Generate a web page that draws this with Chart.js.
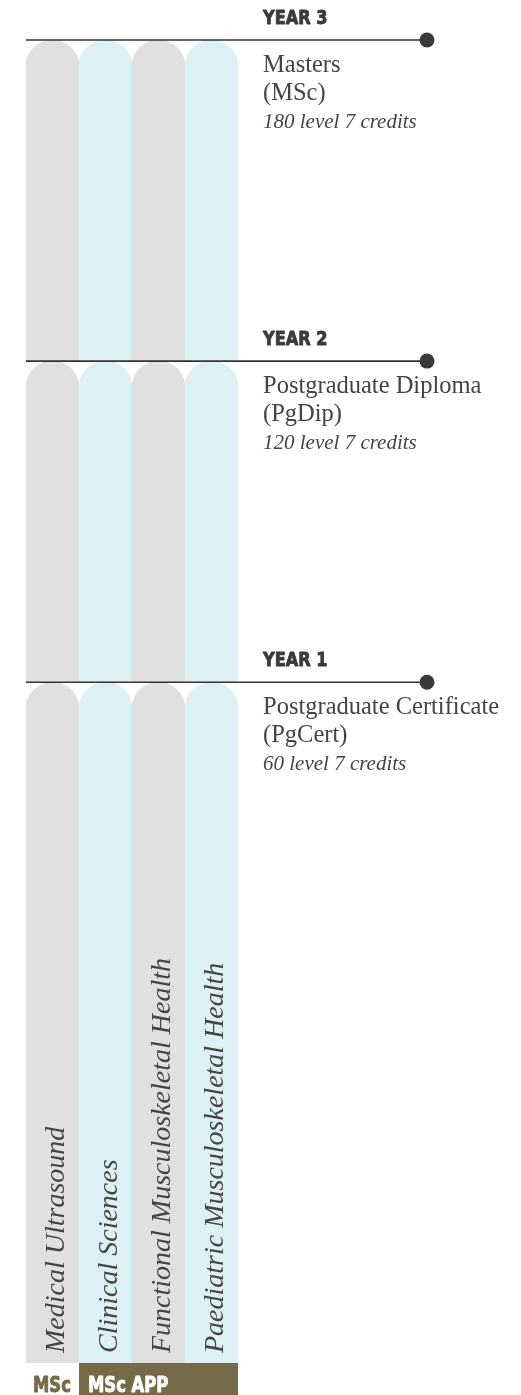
<!DOCTYPE html>
<html>
<head>
<meta charset="utf-8">
<script src="https://cdn.jsdelivr.net/npm/chart.js@4/dist/chart.umd.min.js"></script>
<style>
    html, body { margin: 0; padding: 0; background: #fff; }
    canvas { display: block; }
</style>
</head>
<body>
<canvas id="grafico" width="521" height="1395"></canvas>
<script>
// Programmes (one column each)
const programas = ['Medical Ultrasound', 'Clinical Sciences', 'Functional Musculoskeletal Health', 'Paediatric Musculoskeletal Health'];

// Years, from the bottom up
const anios = ['YEAR 1', 'YEAR 2', 'YEAR 3'];
const titulos = ['Postgraduate Certificate', 'Postgraduate Diploma', 'Masters'];
const siglas = ['(PgCert)', '(PgDip)', '(MSc)'];
const creditos = [60, 120, 180];
// height of each year's block (relative units)
const alturaTramo = [2.12, 1, 1];

// Routes shown under the columns
const rutas = ['MSc', 'MSc APP'];
const rutaDesde = [0, 1];
const rutaHasta = [0, 3];

// Styles
const coloresColumna = ['#e0e0e0', '#dcf0f6', '#e0e0e0', '#dcf0f6'];
const colorTexto = '#3a3a3a';
const colorOliva = '#756b48';
const fuenteNegrita = '"DejaVu Sans", sans-serif';
const fuenteSerif = '"Liberation Serif", "DejaVu Serif", serif';

const total = alturaTramo.reduce((s, v) => s + v, 0);

// Bold text squeezed horizontally, with a thin stroke to make it heavier
function textoEstrecho(ctx, texto, x, y, escala) {
    ctx.save();
    ctx.translate(x, y);
    ctx.scale(escala, 1);
    ctx.strokeStyle = ctx.fillStyle;
    ctx.lineWidth = 0.9;
    ctx.lineJoin = 'round';
    ctx.fillText(texto, 0, 0);
    ctx.strokeText(texto, 0, 0);
    ctx.restore();
}

// Lines, dots, texts and route bands drawn over the bars
const dibujoExtra = {
    id: 'dibujoExtra',
    afterDatasetsDraw(chart) {
        const ctx = chart.ctx;
        const escalaX = chart.scales.x;
        const escalaY = chart.scales.y;
        const area = chart.chartArea;
        const anchoCol = (area.right - area.left) / programas.length;

        ctx.save();

        // Rotated programme names
        ctx.fillStyle = '#444';
        ctx.font = 'italic 28px ' + fuenteSerif;
        ctx.textAlign = 'left';
        ctx.textBaseline = 'alphabetic';
        programas.forEach((p, i) => {
            ctx.save();
            ctx.translate(escalaX.getPixelForValue(i), area.bottom - 10);
            ctx.rotate(-Math.PI / 2);
            ctx.fillText(p, 0, 11);
            ctx.restore();
        });

        // Year lines with dot and labels
        let acumulado = 0;
        const textoX = area.right + 25;
        const finLinea = area.right + 189;
        anios.forEach((anio, i) => {
            acumulado += alturaTramo[i];
            const py = escalaY.getPixelForValue(acumulado);

            ctx.strokeStyle = '#333';
            ctx.lineWidth = 1.6;
            ctx.beginPath();
            ctx.moveTo(area.left, py);
            ctx.lineTo(finLinea, py);
            ctx.stroke();

            ctx.fillStyle = '#3a3a3a';
            ctx.beginPath();
            ctx.arc(finLinea, py, 7.5, 0, Math.PI * 2);
            ctx.fill();

            ctx.fillStyle = colorTexto;
            ctx.font = 'bold 19px ' + fuenteNegrita;
            textoEstrecho(ctx, anio, textoX, py - 16, 0.85);

            ctx.fillStyle = '#444';
            ctx.font = '24.5px ' + fuenteSerif;
            ctx.fillText(titulos[i], textoX, py + 32);
            ctx.fillText(siglas[i], textoX, py + 60);
            ctx.font = 'italic 21px ' + fuenteSerif;
            ctx.fillText(creditos[i] + ' level 7 credits', textoX, py + 88);
        });

        // Route bands under the columns
        ctx.font = 'bold 20.5px ' + fuenteNegrita;
        rutas.forEach((r, i) => {
            const izq = area.left + rutaDesde[i] * anchoCol;
            const der = area.left + (rutaHasta[i] + 1) * anchoCol;
            if (i > 0) {
                ctx.fillStyle = colorOliva;
                ctx.fillRect(izq, area.bottom, der - izq, chart.height - area.bottom);
                ctx.fillStyle = '#fff';
                textoEstrecho(ctx, r, izq + 9, area.bottom + 29, 0.8);
            } else {
                ctx.fillStyle = colorOliva;
                textoEstrecho(ctx, r, izq + 7, area.bottom + 29, 0.8);
            }
        });

        ctx.restore();
    }
};

const ctxGrafico = document.getElementById('grafico').getContext('2d');
new Chart(ctxGrafico, {
    type: 'bar',
    data: {
        labels: programas,
        datasets: anios.map((anio, i) => ({
            label: anio,
            data: programas.map(() => alturaTramo[i]),
            backgroundColor: coloresColumna,
            borderWidth: 0,
            borderSkipped: false,
            borderRadius: { topLeft: 30, topRight: 30, bottomLeft: 0, bottomRight: 0 },
            categoryPercentage: 1,
            barPercentage: 1
        }))
    },
    options: {
        responsive: false,
        animation: false,
        layout: { padding: { left: 26, right: 283, top: 40, bottom: 32 } },
        plugins: {
            legend: { display: false },
            tooltip: { enabled: false }
        },
        scales: {
            x: { stacked: true, display: false },
            y: { stacked: true, display: false, min: 0, max: total }
        }
    },
    plugins: [dibujoExtra]
});
</script>
</body>
</html>
